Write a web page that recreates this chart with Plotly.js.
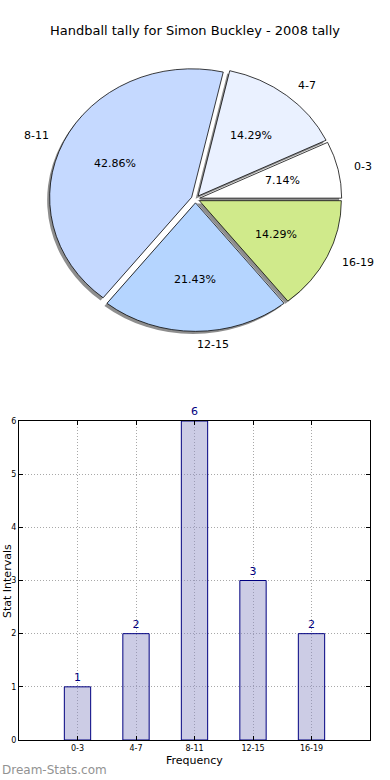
<!DOCTYPE html>
<html><head><meta charset="utf-8">
<script src="https://cdn.plot.ly/plotly-3.0.1.min.js"></script>
<style>html,body{margin:0;padding:0;background:#fff}</style>
</head><body><div id="chart" style="width:390px;height:780px"></div>
<script>
// ---- data ----
const categories = ['0-3', '4-7', '8-11', '12-15', '16-19'];
const counts = [1, 2, 6, 3, 2];
const sliceColors = ['#ffffff', '#eaf1ff', '#c5d9ff', '#b5d5ff', '#d0ea8b'];
const pulls = [0.03, 0.03, 0.03, 0.03, 0.03];
const chartTitle = 'Handball tally for Simon Buckley - 2008 tally';
const xTitle = 'Frequency';
const yTitle = 'Stat Intervals';
const watermark = 'Dream-Stats.com';

// ---- geometry ----
const W = 390, H = 780;
const R = 142, RY = 128.5, CX = 195.5, CY = 199;
const K = RY / R;
const maxPull = Math.max(...pulls);
const half = R * (1 + maxPull);
const total = counts.reduce((a, b) => a + b, 0);
const FONT = 'DejaVu Sans, sans-serif';
// first slice begins at 3 o'clock, going counterclockwise
const startRotation = 90 - 360 * counts[0] / total;

function pieDomain(cx, cy) {
  const hw = Math.min(cx, W - cx);
  return { x: [(cx - hw) / W, (cx + hw) / W], y: [1 - (cy + half) / H, 1 - (cy - half) / H] };
}

const shadow = {
  type: 'pie', values: counts, labels: categories, sort: false,
  direction: 'counterclockwise', rotation: startRotation, pull: pulls,
  marker: { colors: categories.map(() => '#8e8e8e'), line: { width: 0 } },
  textinfo: 'none', hoverinfo: 'none', showlegend: false,
  domain: pieDomain(CX - 2.5, CY + 3)
};
const pie = {
  type: 'pie', values: counts, labels: categories, sort: false,
  direction: 'counterclockwise', rotation: startRotation, pull: pulls,
  marker: { colors: sliceColors, line: { color: '#000', width: 0.8 } },
  textinfo: 'none', hoverinfo: 'none', showlegend: false,
  domain: pieDomain(CX, CY)
};
const bars = {
  type: 'bar', x: categories, y: counts, width: 0.45,
  marker: { color: 'rgba(142,142,197,0.45)', line: { color: '#000080', width: 1 } },
  text: counts.map(String), textposition: 'outside', cliponaxis: false, constraintext: 'none',
  textfont: { family: FONT, size: 11, color: '#000080' },
  hoverinfo: 'none', showlegend: false, xaxis: 'x', yaxis: 'y'
};

const annotations = [];
let cum = 0;
categories.forEach((c, i) => {
  const t = 2 * Math.PI * (cum + counts[i] / 2) / total;
  cum += counts[i];
  const co = Math.cos(t), si = Math.sin(t);
  const ox = CX + pulls[i] * R * co, oy = CY - pulls[i] * RY * si;
  const lx = ox + 1.1 * R * co, ly = oy - 1.1 * RY * si;
  const px = ox + 0.6 * R * co, py = oy - 0.6 * RY * si;
  annotations.push({ text: c, xref: 'paper', yref: 'paper', x: lx / W, y: 1 - ly / H,
    xanchor: co > -1e-6 ? 'left' : 'right', yanchor: 'middle', showarrow: false,
    font: { family: FONT, size: 11, color: '#000' } });
  annotations.push({ text: (counts[i] / total * 100).toFixed(2) + '%', xref: 'paper', yref: 'paper',
    x: px / W, y: 1 - py / H, xanchor: 'center', yanchor: 'middle', showarrow: false,
    font: { family: FONT, size: 11, color: '#000' } });
});
annotations.push({ text: xTitle, xref: 'paper', yref: 'paper', x: 194.5 / W, y: 1 - 760 / H,
  xanchor: 'center', yanchor: 'middle', showarrow: false, font: { family: FONT, size: 11, color: '#000' } });
annotations.push({ text: yTitle, xref: 'paper', yref: 'paper', x: 7 / W, y: 1 - 581 / H, textangle: -90,
  xanchor: 'center', yanchor: 'middle', showarrow: false, font: { family: FONT, size: 11, color: '#000' } });
annotations.push({ text: watermark, xref: 'paper', yref: 'paper', x: 0, y: 1 - 770 / H,
  xanchor: 'left', yanchor: 'middle', showarrow: false, font: { family: FONT, size: 12, color: '#929292' } });

const axisCommon = {
  showgrid: true, gridcolor: '#a8a8a8', griddash: '1px,2px', gridwidth: 1,
  ticks: 'inside', ticklen: 4, tickcolor: '#000', showline: true, linecolor: '#000', linewidth: 1,
  mirror: 'ticks', zeroline: false, tickfont: { family: FONT, size: 8, color: '#000' }, fixedrange: true
};

const layout = {
  width: W, height: H, margin: { l: 0, r: 0, t: 0, b: 0 },
  paper_bgcolor: '#fff', plot_bgcolor: '#fff', showlegend: false,
  title: { text: chartTitle, font: { family: FONT, size: 13, color: '#000' }, x: 0.5, xanchor: 'center',
    y: 1 - 30 / H, yanchor: 'middle' },
  xaxis: Object.assign({}, axisCommon, { domain: [19 / W, 370 / W], anchor: 'y', type: 'category', range: [-1, 5] }),
  yaxis: Object.assign({}, axisCommon, { domain: [40 / H, 359 / H], anchor: 'x', range: [0, 6], dtick: 1 }),
  annotations: annotations
};

Plotly.newPlot('chart', [shadow, pie, bars], layout, { staticPlot: true }).then(gd => {
  const g = gd.querySelector('.pielayer');
  if (g) g.setAttribute('transform', `translate(0 ${CY}) scale(1 ${K}) translate(0 ${-CY})`);
});
</script></body></html>
